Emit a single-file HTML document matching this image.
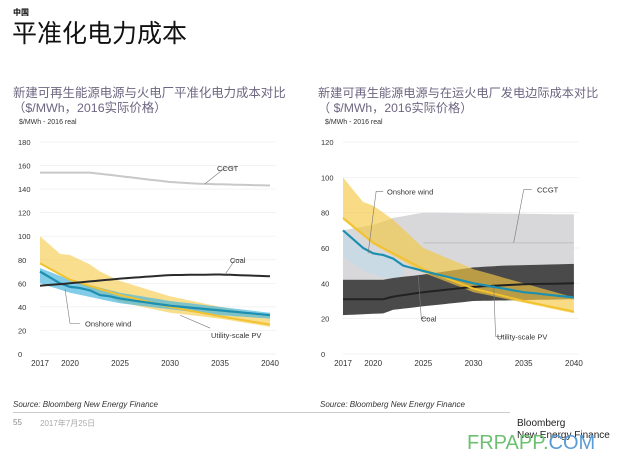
<!DOCTYPE html>
<html><head><meta charset="utf-8"><style>
body{margin:0;width:617px;height:468px;background:#fff;overflow:hidden;font-family:"Liberation Sans","Noto Sans CJK SC",sans-serif;position:relative}
.a{position:absolute;white-space:nowrap}
</style></head><body>
<div class="a" style="left:13px;top:7px;font-size:8px;font-weight:bold">中国</div>
<div class="a" style="left:12px;top:20px;font-size:25px;line-height:28px;color:#111">平准化电力成本</div>
<div class="a" style="left:13px;top:86px;font-size:12.4px;line-height:15px;color:#6d6680">新建可再生能源电源与火电厂平准化电力成本对比<br>（$/MWh，2016实际价格）</div>
<div class="a" style="left:318px;top:86px;font-size:12.2px;line-height:15px;color:#6d6680">新建可再生能源电源与在运火电厂发电边际成本对比<br>（ $/MWh，2016实际价格）</div>
<div class="a" style="left:19px;top:119px;font-size:7px;color:#333">$/MWh - 2016 real</div>
<div class="a" style="left:325px;top:119px;font-size:7px;color:#333">$/MWh - 2016 real</div>
<svg id="s" class="a" style="left:0;top:0" width="617" height="468" font-family="Liberation Sans,sans-serif"></svg>
<div class="a" style="left:13px;top:400px;font-size:8px;font-style:italic;color:#333">Source: Bloomberg New Energy Finance</div>
<div class="a" style="left:320px;top:400px;font-size:8px;font-style:italic;color:#333">Source: Bloomberg New Energy Finance</div>
<div class="a" style="left:13px;top:412px;width:497px;height:1px;background:#ccc"></div>
<div class="a" style="left:13px;top:418px;font-size:8px;color:#888">55</div>
<div class="a" style="left:40px;top:418px;font-size:8px;color:#aaa;font-family:'Liberation Sans','Noto Sans CJK SC',sans-serif">2017年7月25日</div>
<div class="a" style="left:517px;top:418px;font-size:10px;line-height:12px;color:#222">Bloomberg<br>New Energy Finance</div>
<div class="a" style="left:467px;top:432px;font-size:20px;line-height:22px"><span style="color:#6cc070">FRPAPP.</span><span style="color:#5b9bd5">COM</span></div>
<script>
function it(p,y){for(let i=0;i<p.length-1;i++){if(y>=p[i][0]&&y<=p[i+1][0]){let t=(y-p[i][0])/(p[i+1][0]-p[i][0]);return p[i][1]+t*(p[i+1][1]-p[i][1]);}}return p[p.length-1][1];}
let s='';
function chart(X0,sx,Y0,sy,max,step,d){
 const X=y=>X0+(y-2017)*sx, Y=v=>Y0-v*sy;
 for(let v=0;v<=max;v+=step){s+=`<line x1="${X0}" x2="${X0+236}" y1="${Y(v)}" y2="${Y(v)}" stroke="#eee" stroke-width="0.7"/>`;
  s+=`<text x="${X0-22}" y="${Y(v)+3}" font-size="7.5" fill="#333">${v}</text>`;}
 [2017,2020,2025,2030,2035,2040].forEach(a=>s+=`<text x="${X(a)}" y="366" font-size="8" fill="#333" text-anchor="middle">${a}</text>`);
 const line=(p,c,w,a,b)=>{let q=[];for(let y=a||2017;y<=(b||2040);y+=0.5)q.push(X(y).toFixed(1)+','+Y(it(p,y)).toFixed(1));s+=`<polyline points="${q.join(' ')}" fill="none" stroke="${c}" stroke-width="${w}"/>`;};
 const band=(u,l,c,o,a,b)=>{let q=[],r=[];for(let y=a||2017;y<=(b||2040);y+=0.5){q.push(X(y).toFixed(1)+','+Y(it(u,y)).toFixed(1));r.unshift(X(y).toFixed(1)+','+Y(it(l,y)).toFixed(1));}s+=`<polygon points="${q.concat(r).join(' ')}" fill="${c}" opacity="${o}"/>`;};
 d(line,band,X,Y);
}
chart(40,10,354,1.178,180,20,(line,band,X,Y)=>{
 line([[2017,154],[2022,154],[2025,151],[2030,146],[2033,144.5],[2040,143]],'#c8c8c8',2);
 band([[2017,100],[2019,85],[2020,84],[2022,76],[2023,70],[2025,62],[2030,49],[2035,40],[2040,32]],[[2017,76],[2020,62],[2025,44],[2030,35],[2035,30],[2040,23]],'#f5c842',0.6);
 band([[2017,73],[2020,63],[2025,52],[2030,45],[2035,40],[2040,35]],[[2017,60],[2020,52],[2025,43],[2030,38],[2035,33],[2040,30]],'#4bb8de',0.7);
 line([[2017,77],[2020,63],[2025,50],[2030,40],[2035,32],[2040,25]],'#f2c230',2);
 line([[2017,70],[2018,65],[2019,60],[2020,57],[2021,56],[2022,54],[2023,50],[2024,49],[2025,47],[2030,41],[2035,37],[2040,33]],'#1d8fb0',2.2);
 line([[2017,58],[2020,60],[2025,64],[2030,67],[2035,67.5],[2040,66]],'#2b2b2b',2);
 s+=`<polyline points="${X(2033.5)},${Y(144.5)} ${X(2035.5)},${Y(158)} ${X(2036.5)},${Y(158)}" fill="none" stroke="#777" stroke-width="0.6"/><text x="217" y="${Y(158)+3}" font-size="7.5" fill="#333">CCGT</text>`;
 s+=`<polyline points="${X(2035.5)},${Y(67.5)} ${X(2036.5)},${Y(80)} ${X(2037.2)},${Y(80)}" fill="none" stroke="#777" stroke-width="0.6"/><text x="230" y="${Y(80)+3}" font-size="7.5" fill="#333">Coal</text>`;
 s+=`<polyline points="${X(2019.5)},${Y(55)} ${X(2020)},${Y(26)} ${X(2021)},${Y(26)}" fill="none" stroke="#777" stroke-width="0.6"/><text x="85" y="${Y(26)+3}" font-size="7.5" fill="#333">Onshore wind</text>`;
 s+=`<polyline points="${X(2031)},${Y(33)} ${X(2034)},${Y(22)}" fill="none" stroke="#777" stroke-width="0.6"/><text x="211" y="${Y(16)+3}" font-size="7.5" fill="#333">Utility-scale PV</text>`;
});
chart(343,10.04,354,1.767,120,20,(line,band,X,Y)=>{
 band([[2017,70],[2020,73],[2022,77],[2025,80],[2040,79]],[[2017,42],[2021,42],[2025,45],[2030,49],[2033,50],[2040,51]],'#d8d8da',1);
 band([[2017,70],[2018,65],[2019,60],[2020,57],[2022,54],[2023,50]],[[2017,55],[2019,47],[2020,45],[2022,42],[2023,45]],'#c7dbe6',0.8,2017,2023);
 band([[2017,42],[2021,42],[2022,43],[2025,45],[2030,49],[2033,50],[2040,51]],[[2017,22],[2021,23],[2022,25],[2025,27],[2030,30],[2040,31]],'#4a4a4a',1);
 line([[2017,63],[2040,63]],'#c8c8c8',1.5,2025,2040);
 band([[2017,100],[2019,86],[2020,84],[2022,76],[2025,60],[2030,48],[2035,40],[2040,32]],[[2017,76],[2020,62],[2025,46],[2030,35],[2035,29],[2040,23]],'#f5c842',0.65);
 line([[2017,31],[2021,31],[2022,32.5],[2025,35],[2030,38],[2035,39.5],[2040,40]],'#222',2);
 line([[2017,77],[2020,63],[2025,48],[2030,37],[2035,30],[2040,24]],'#f2c230',2);
 line([[2017,70],[2018,65],[2019,60],[2020,57],[2021,56],[2022,54],[2023,50],[2025,47],[2030,40],[2035,35],[2040,32]],'#1d8fb0',2.2);
 s+=`<polyline points="${X(2019.5)},${Y(57)} ${X(2020.3)},${Y(92)} ${X(2021)},${Y(92)}" fill="none" stroke="#777" stroke-width="0.6"/><text x="387" y="${Y(92)+3}" font-size="7.5" fill="#333">Onshore wind</text>`;
 s+=`<polyline points="${X(2034)},${Y(63)} ${X(2035)},${Y(93)} ${X(2035.8)},${Y(93)}" fill="none" stroke="#777" stroke-width="0.6"/><text x="537" y="${Y(93)+3}" font-size="7.5" fill="#333">CCGT</text>`;
 s+=`<polyline points="${X(2024.5)},${Y(44)} ${X(2024.8)},${Y(20)} ${X(2025.5)},${Y(20)}" fill="none" stroke="#777" stroke-width="0.6"/><text x="421" y="${Y(20)+3}" font-size="7.5" fill="#333">Coal</text>`;
 s+=`<polyline points="${X(2032)},${Y(40)} ${X(2032.2)},${Y(10)} ${X(2033)},${Y(10)}" fill="none" stroke="#777" stroke-width="0.6"/><text x="497" y="${Y(10)+3}" font-size="7.5" fill="#333">Utility-scale PV</text>`;
});
document.getElementById('s').innerHTML=s;
</script>
</body></html>
